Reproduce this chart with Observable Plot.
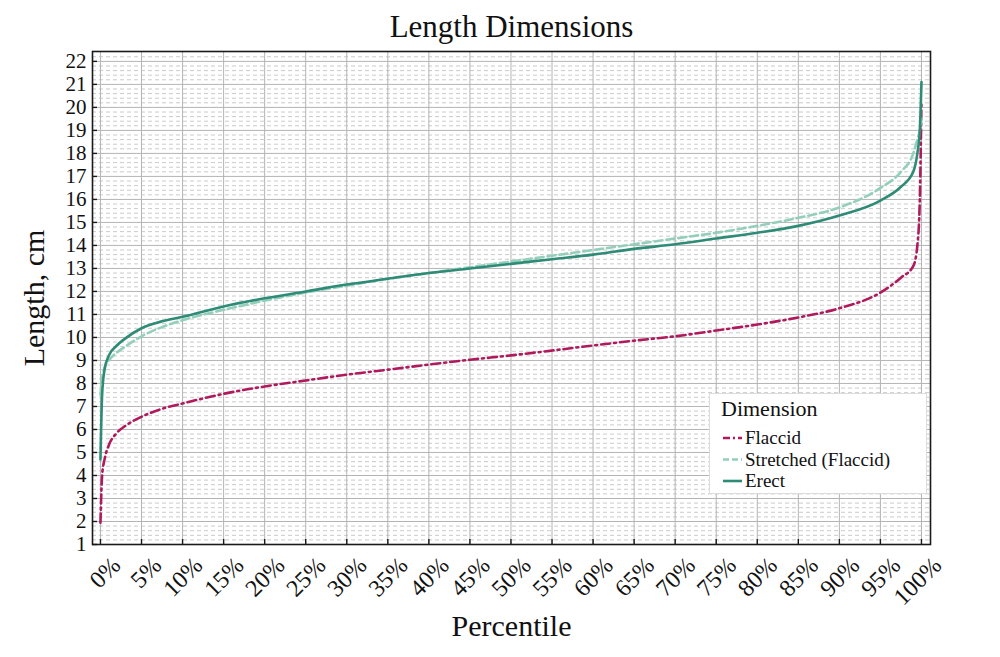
<!DOCTYPE html>
<html><head><meta charset="utf-8">
<script src="https://cdn.jsdelivr.net/npm/d3@7"></script>
<script src="https://cdn.jsdelivr.net/npm/@observablehq/plot@0.6"></script>
<style>
body{margin:0;background:#fff;}
#wrap{position:relative;width:1000px;height:657px;font-family:"Liberation Serif",serif;}
#wrap svg{display:block;}
#legend{position:absolute;left:709px;top:393px;}
</style></head>
<body><div id="wrap"></div>
<script>
const percentiles = [0, 0.002, 0.005, 0.01, 0.02, 0.03, 0.05, 0.075, 0.10, 0.15, 0.20, 0.25, 0.30, 0.35, 0.40, 0.45, 0.50, 0.55, 0.60, 0.65, 0.70, 0.75, 0.80, 0.85, 0.90, 0.95, 0.975, 0.99, 0.995, 0.998, 1];
const flaccid   = [1.95, 4.0, 4.7, 5.3, 5.85, 6.15, 6.55, 6.9, 7.13, 7.55, 7.87, 8.13, 8.38, 8.6, 8.82, 9.03, 9.22, 9.43, 9.65, 9.86, 10.05, 10.3, 10.56, 10.87, 11.27, 11.95, 12.6, 13.1, 14.0, 16.0, 20.3];
const stretched = [7.5, 8.2, 8.7, 9.0, 9.35, 9.6, 10.05, 10.45, 10.75, 11.2, 11.6, 11.95, 12.25, 12.55, 12.8, 13.05, 13.3, 13.55, 13.8, 14.05, 14.3, 14.55, 14.85, 15.2, 15.65, 16.5, 17.2, 18.0, 18.6, 19.0, 19.5];
const erect     = [4.7, 7.5, 8.6, 9.2, 9.65, 9.95, 10.4, 10.7, 10.9, 11.35, 11.7, 12.0, 12.3, 12.55, 12.8, 13.0, 13.2, 13.4, 13.6, 13.85, 14.05, 14.3, 14.55, 14.85, 15.3, 15.95, 16.55, 17.2, 18.0, 19.0, 21.1];

const seriesNames = ["Flaccid", "Stretched (Flaccid)", "Erect"];
const seriesValues = [flaccid, stretched, erect];
const seriesColors = ["#b01a5c", "#93cfbb", "#2e8b76"];
const seriesDash = ["9,4,2,4", "8,4", null];

const xTicks = [0,0.05,0.10,0.15,0.20,0.25,0.30,0.35,0.40,0.45,0.50,0.55,0.60,0.65,0.70,0.75,0.80,0.85,0.90,0.95,1];
const xTickLabels = ["0%","5%","10%","15%","20%","25%","30%","35%","40%","45%","50%","55%","60%","65%","70%","75%","80%","85%","90%","95%","100%"];
const yTicks = [1,2,3,4,5,6,7,8,9,10,11,12,13,14,15,16,17,18,19,20,21,22];
const yMinor = d3.range(1, 22.3, 0.2).filter(v => Math.abs(v - Math.round(v)) > 1e-6);

const title = "Length Dimensions";
const xLabel = "Percentile";
const yLabel = "Length, cm";
const legendTitle = "Dimension";

const font = "Liberation Serif, serif";

const lineMarks = seriesNames.map((name, s) =>
  Plot.line(percentiles, {
    x: d => d,
    y: (d, i) => seriesValues[s][i],
    stroke: seriesColors[s],
    strokeWidth: 2.6,
    strokeDasharray: seriesDash[s],
    curve: "monotone-x"
  })
);

const chart = Plot.plot({
  width: 1000,
  height: 657,
  marginLeft: 92,
  marginRight: 70,
  marginTop: 51,
  marginBottom: 113,
  style: {fontFamily: font, background: "#fff", overflow: "visible"},
  x: {domain: [-0.0097, 1.011], axis: null},
  y: {domain: [1, 22.43], axis: null},
  marks: [
    Plot.ruleY(yMinor, {stroke: "#c4c4c4", strokeWidth: 0.9, strokeDasharray: "4,3"}),
    Plot.ruleY(yTicks, {stroke: "#b4b4b4", strokeWidth: 1}),
    Plot.ruleX(xTicks, {stroke: "#b4b4b4", strokeWidth: 1}),
    ...lineMarks,
    Plot.frame({stroke: "#1a1a1a", strokeWidth: 1.6}),
    Plot.axisY(yTicks, {tickSize: 5, dx: 5, text: null, stroke: "#1a1a1a", strokeWidth: 1.4}),
    Plot.axisX(xTicks, {tickSize: 5, dy: -5, text: null, stroke: "#1a1a1a", strokeWidth: 1.4}),
    Plot.axisY(yTicks, {tickSize: 0, tickPadding: 6, fontSize: 21, label: null, fill: "#111"}),
    Plot.text(xTicks, {x: d => d, text: (d, i) => xTickLabels[i], frameAnchor: "bottom", rotate: -45, textAnchor: "end", lineAnchor: "middle", dx: 16, dy: 17, fontSize: 24, fill: "#111"}),
    Plot.text([title], {frameAnchor: "top", dy: -24, fontSize: 31, fill: "#111", lineAnchor: "middle"}),
    Plot.text([xLabel], {frameAnchor: "bottom", dy: 82, fontSize: 30, fill: "#111", lineAnchor: "middle"}),
    Plot.text([yLabel], {frameAnchor: "left", dx: -58, rotate: -90, textAnchor: "middle", fontSize: 30, fill: "#111", lineAnchor: "middle"})
  ]
});
const wrap = document.getElementById("wrap");
wrap.appendChild(chart);

// legend overlay
const lg = d3.select(wrap).append("svg").attr("id", "legend")
  .attr("width", 220).attr("height", 102)
  .style("font-family", font);
lg.append("rect").attr("x", 0.5).attr("y", 0.5).attr("width", 217).attr("height", 100)
  .attr("fill", "#fff").attr("stroke", "#dcdcdc").attr("stroke-width", 1);
lg.append("text").attr("x", 12).attr("y", 23).attr("font-size", 22).attr("fill", "#111").text(legendTitle);
seriesNames.forEach((name, s) => {
  const cy = 45 + s * 21.5;
  lg.append("line").attr("x1", 14).attr("x2", 33).attr("y1", cy).attr("y2", cy)
    .attr("stroke", seriesColors[s]).attr("stroke-width", 2.6)
    .attr("stroke-dasharray", seriesDash[s] ? (s === 0 ? "7,3,2,3" : "6,3") : null);
  lg.append("text").attr("x", 36).attr("y", cy + 6).attr("font-size", 19).attr("fill", "#111").text(name);
});
</script>
</body></html>
